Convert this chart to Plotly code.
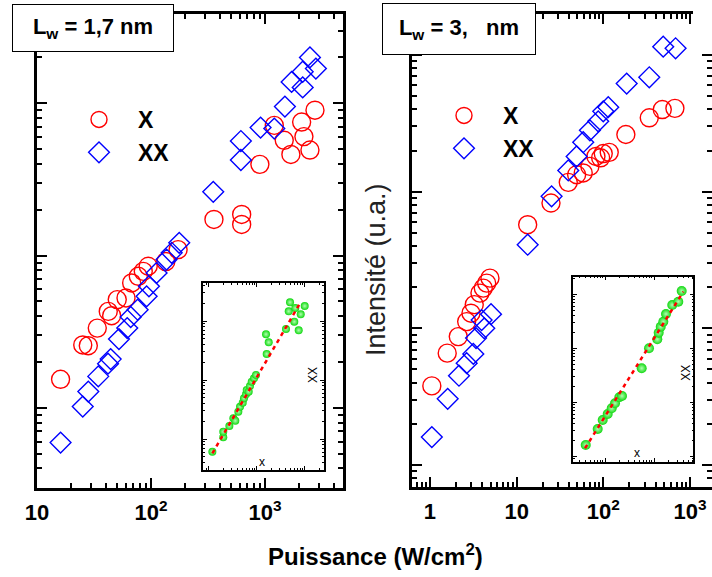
import plotly.graph_objects as go

# ---------------- data ----------------
# Left panel: Lw = 1,7 nm
lw17_X_power = [16.1, 25.2, 28.2, 33.8, 42.2, 45.2, 50.6, 60.4, 67.7, 77.4, 85.6, 94.6, 135, 173,
                357, 625, 625, 903, 1208, 1477, 1690, 2099, 2198, 2483, 2748]
lw17_X_int = [154, 259, 256, 334, 430, 403, 514, 527, 661, 731, 788, 851, 914, 1094,
              1726, 1862, 1600, 3970, 7160, 5710, 4610, 7530, 6040, 4930, 9000]
lw17_XX_power = [16.1, 25.2, 28.2, 34.5, 42, 44.3, 52.4, 61.9, 66.4, 76.4, 91.6, 96, 112, 137, 152, 177,
                 352, 615, 615, 916, 1208, 1497, 1714, 2145, 2145, 2483, 2800]
lw17_XX_int = [59.2, 102, 128, 161, 195, 209, 283, 334, 395, 441, 540, 628, 769, 942, 1043, 1213,
               2620, 5650, 4240, 6920, 6820, 9510, 13800, 16100, 12700, 20000, 16900]

# Right panel: Lw = 3, nm
lw3_X_power = [1.05, 1.58, 2.12, 2.65, 2.97, 3.24, 3.77, 4.12, 4.51, 4.92, 13.4, 24.9, 39.4, 49.2,
               58.6, 70, 82.2, 93.1, 99.8, 117, 182, 339, 479, 670]
lw3_X_int = [37.9, 65.8, 87, 112, 129, 149, 181, 197, 214, 233, 573, 826, 1170, 1330,
             1370, 1530, 1810, 1770, 1900, 1940, 2620, 3470, 3990, 4070]
lw3_XX_power = [1.05, 1.6, 2.16, 2.65, 3.16, 3.4, 3.94, 4.23, 5.06, 13.4, 25.3, 39.4, 49.2, 58.6,
                70, 87.3, 99.8, 114, 186, 339, 491, 682]
lw3_XX_int = [16, 30.5, 45, 55.6, 65, 84.8, 115, 100, 127, 409, 925, 1430, 1810, 2300,
              2810, 3270, 3870, 4150, 6180, 6870, 11500, 11200]

# Insets: XX intensity vs X intensity
ins17_x = [119, 201, 201, 269, 326, 358, 414, 449, 511, 543, 598, 619, 681, 724, 787, 879, 966,
           1614, 1778, 1563, 4074, 4645, 4943, 6368, 6067, 7499, 8260, 10000]
ins17_y = [61, 107, 133, 166, 224, 204, 290, 352, 412, 490, 573, 678, 634, 791, 935, 1069, 1216,
           2761, 4355, 5957, 7311, 14588, 20749, 16596, 9727, 6950, 13002, 17947]
ins17_fit_x = [119, 7980]
ins17_fit_y = [57.3, 19950]

ins3_x = [40.4, 71, 89.7, 113.5, 137, 160, 196, 222, 561, 791, 1167, 1247, 1371, 1549, 1758,
          2360, 3133, 3673]
ins3_y = [16.2, 32.1, 47, 60.7, 77.4, 95.7, 124, 131, 427, 1000, 1469, 1945, 2512, 3112, 4315,
          6339, 7295, 11508]
ins3_fit_x = [39.1, 3963]
ins3_fit_y = [14.1, 11170]

left_tickvals = [10, 100, 1000]
left_ticktext = ["10", "10<sup>2</sup>", "10<sup>3</sup>"]
right_tickvals = [1, 10, 100, 1000]
right_ticktext = ["1", "10", "10<sup>2</sup>", "10<sup>3</sup>"]

# ---------------- figure ----------------
W, H = 712, 577
def px(v): return v / W
def py(v): return 1 - v / H

FONT = "Arial, Liberation Sans, sans-serif"
RED = "#ff0000"
BLUE = "#0000ff"

fig = go.Figure()

def add_main(xp, yi, name, symbol, color, size, xa, ya, leg, show):
    fig.add_trace(go.Scatter(
        x=xp, y=yi, mode="markers", name=name,
        marker=dict(symbol=symbol, size=size, color=color, line=dict(width=1.4, color=color)),
        xaxis=xa, yaxis=ya, legend=leg, showlegend=show))

add_main(lw17_X_power, lw17_X_int, "X", "circle-open", RED, 18, "x", "y", "legend", True)
add_main(lw17_XX_power, lw17_XX_int, "XX", "diamond-open", BLUE, 16, "x", "y", "legend", True)
add_main(lw3_X_power, lw3_X_int, "X", "circle-open", RED, 18, "x2", "y2", "legend2", True)
add_main(lw3_XX_power, lw3_XX_int, "XX", "diamond-open", BLUE, 16, "x2", "y2", "legend2", True)

def add_inset(xs, ys, fx, fy, xa, ya, msize):
    fig.add_trace(go.Scatter(
        x=xs, y=ys, mode="markers", showlegend=False,
        marker=dict(size=msize, color="#10d810",
                    gradient=dict(type="radial", color="#b0ffb0"),
                    line=dict(width=0)),
        xaxis=xa, yaxis=ya))
    fig.add_trace(go.Scatter(
        x=fx, y=fy, mode="lines", showlegend=False,
        line=dict(color=RED, width=2.5, dash="4px,4px"),
        xaxis=xa, yaxis=ya))

add_inset(ins17_x, ins17_y, ins17_fit_x, ins17_fit_y, "x3", "y3", 8)
add_inset(ins3_x, ins3_y, ins3_fit_x, ins3_fit_y, "x4", "y4", 10)

def main_axis(**kw):
    d = dict(type="log", showgrid=False, zeroline=False, showline=True, linewidth=2.5,
             linecolor="black", mirror="allticks", ticks="inside", ticklen=10, tickwidth=2,
             tickcolor="black", automargin=False,
             minor=dict(ticks="inside", ticklen=5, tickwidth=2, tickcolor="black",
                        dtick="D1", showgrid=False))
    d.update(kw)
    return d

def inset_axis(**kw):
    d = dict(type="log", showgrid=False, zeroline=False, showline=True, linewidth=1.5,
             linecolor="black", mirror="allticks", ticks="inside", ticklen=4, tickwidth=1,
             tickcolor="black", dtick=1, showticklabels=False, automargin=False,
             minor=dict(ticks="inside", ticklen=2, tickwidth=1, tickcolor="black",
                        dtick="D1", showgrid=False))
    d.update(kw)
    return d

tickfont = dict(family=FONT, size=22, color="black", weight="bold")
legfont = dict(family=FONT, size=23, color="black", weight="bold")

fig.update_layout(
    width=W, height=H, margin=dict(l=0, r=0, t=0, b=0, pad=0, autoexpand=False),
    paper_bgcolor="white", plot_bgcolor="white",
    showlegend=True,
    xaxis=main_axis(domain=[px(37), px(343)], range=[1, 3.685], anchor="y",
                    tickmode="array", tickvals=left_tickvals, ticktext=left_ticktext,
                    tickfont=tickfont, ticklabelstandoff=3),
    yaxis=main_axis(domain=[py(488), py(14)], range=[1.474, 4.586], anchor="x",
                    dtick=1, showticklabels=False),
    xaxis2=main_axis(domain=[px(412), 1.0], range=[-0.2076, 3.254], anchor="y2",
                     tickmode="array", tickvals=right_tickvals, ticktext=right_ticktext,
                     tickfont=tickfont, ticklabelstandoff=3),
    yaxis2=main_axis(domain=[py(487), py(14)], range=[0.839, 4.30], anchor="x2",
                     dtick=1, showticklabels=False),
    xaxis3=inset_axis(domain=[px(203.3), px(324)], range=[1.887, 4.402], anchor="y3"),
    yaxis3=inset_axis(domain=[py(470), py(283)], range=[1.475, 4.644], anchor="x3"),
    xaxis4=inset_axis(domain=[px(573.3), px(693.3)], range=[1.353, 3.802], anchor="y4"),
    yaxis4=inset_axis(domain=[py(461.7), py(276.7)], range=[0.9, 4.326], anchor="x4"),
    legend=dict(x=px(60), y=py(98), xanchor="left", yanchor="top",
                bgcolor="rgba(0,0,0,0)", itemwidth=68, tracegroupgap=0, font=legfont),
    legend2=dict(x=px(425), y=py(94), xanchor="left", yanchor="top",
                 bgcolor="rgba(0,0,0,0)", itemwidth=68, tracegroupgap=0, font=legfont),
)

ann = []
ann.append(dict(x=px(93), y=py(28), xref="paper", yref="paper", xanchor="center", yanchor="middle",
                text="<b>L<sub>w</sub> = 1,7 nm</b>", showarrow=False,
                font=dict(family=FONT, size=22, color="black"),
                bgcolor="white", bordercolor="black", borderwidth=1, borderpad=1,
                width=158, height=44))
ann.append(dict(x=px(459), y=py(29), xref="paper", yref="paper", xanchor="center", yanchor="middle",
                text="<b>L<sub>w</sub> = 3,\u00a0\u00a0\u00a0nm</b>", showarrow=False,
                font=dict(family=FONT, size=22, color="black"),
                bgcolor="white", bordercolor="black", borderwidth=1, borderpad=1,
                width=150, height=48))
ann.append(dict(x=px(376), y=py(269), xref="paper", yref="paper", xanchor="center", yanchor="middle",
                text="Intensité (u.a.)", textangle=-90, showarrow=False,
                font=dict(family=FONT, size=27, color="#222222")))
ann.append(dict(x=px(376), y=py(555), xref="paper", yref="paper", xanchor="center", yanchor="middle",
                text="<b>Puissance (W/cm<sup>2</sup>)</b>", showarrow=False,
                font=dict(family=FONT, size=24, color="black")))
# inset axis labels
for (xx, yy, t, ang) in [(262.3, 462, "x", 0), (313, 375, "XX", -90),
                         (636.7, 453, "x", 0), (686, 372.7, "XX", -90)]:
    ann.append(dict(x=px(xx), y=py(yy), xref="paper", yref="paper", xanchor="center",
                    yanchor="middle", text=t, textangle=ang, showarrow=False,
                    font=dict(family=FONT, size=12, color="black")))
fig.update_layout(annotations=ann)

fig.add_shape(type="rect", xref="paper", yref="paper", x0=px(693), x1=1.0, y0=py(50), y1=1.0,
              fillcolor="white", line=dict(width=0), layer="above")

fig.write_html("out.html", config={"displayModeBar": False},
               post_script="document.body.style.margin='0px';document.body.style.padding='0px';"
                           "document.body.style.overflow='hidden';")
